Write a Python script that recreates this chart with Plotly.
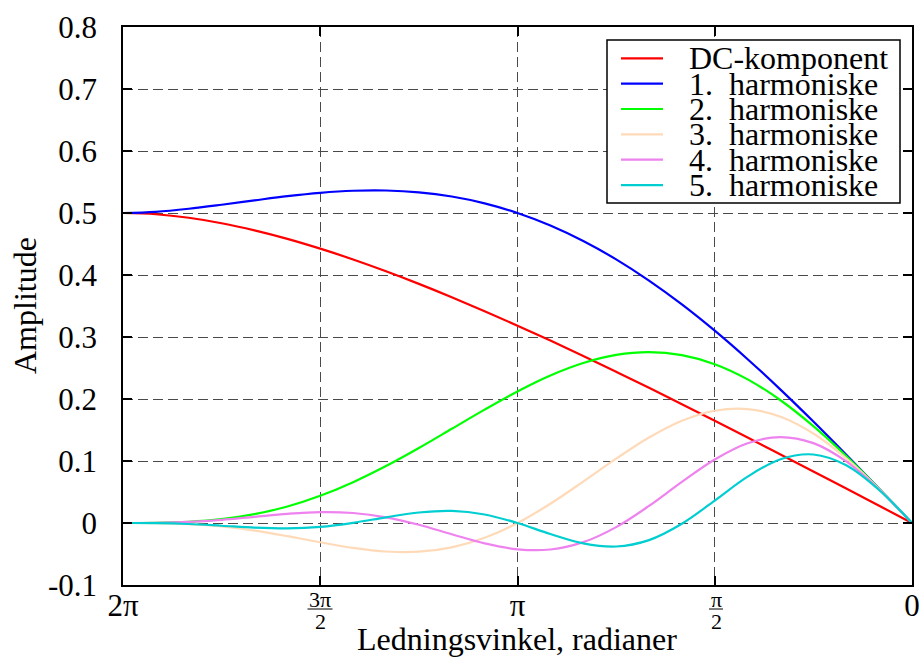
import numpy as np
import plotly.graph_objects as go

# ---------------- data ----------------
conduction_deg = [0, 15, 30, 45, 60, 75, 90, 105, 120, 135, 150, 165, 180,
                  195, 210, 225, 240, 255, 270, 285, 300, 315, 330, 345, 360]

dc = [0, 0.0278, 0.0555, 0.0831, 0.1106, 0.1379, 0.1649, 0.1916, 0.2180, 0.2439,
      0.2693, 0.2942, 0.3183, 0.3417, 0.3642, 0.3857, 0.4060, 0.4250, 0.4425,
      0.4583, 0.4720, 0.4835, 0.4923, 0.4980, 0.5000]
h1 = [0, 0.0554, 0.1102, 0.1637, 0.2152, 0.2642, 0.3102, 0.3526, 0.3910, 0.4252,
      0.4548, 0.4798, 0.5000, 0.5156, 0.5266, 0.5334, 0.5363, 0.5359, 0.5326,
      0.5272, 0.5204, 0.5133, 0.5068, 0.5019, 0.5000]
h2 = [0, 0.0552, 0.1080, 0.1562, 0.1980, 0.2317, 0.2562, 0.2708, 0.2757, 0.2711,
      0.2580, 0.2379, 0.2122, 0.1829, 0.1519, 0.1210, 0.0919, 0.0659, 0.0440,
      0.0267, 0.0142, 0.0062, 0.0019, 0.0002, 0]
h3 = [0, 0.0547, 0.1043, 0.1444, 0.1715, 0.1838, 0.1811, 0.1649, 0.1378, 0.1037,
      0.0668, 0.0311, 0, -0.0239, -0.0393, -0.0463, -0.0460, -0.0401, -0.0311,
      -0.0212, -0.0123, -0.0057, -0.0018, -0.0002, 0]
h4 = [0, 0.0540, 0.0993, 0.1288, 0.1386, 0.1287, 0.1025, 0.0663, 0.0276, -0.0066,
      -0.0309, -0.0427, -0.0424, -0.0329, -0.0182, -0.0029, 0.0092, 0.0161, 0.0176,
      0.0148, 0.0100, 0.0051, 0.0017, 0.0002, 0]
h5 = [0, 0.0532, 0.0931, 0.1105, 0.1029, 0.0748, 0.0362, -0.0012, -0.0276, -0.0379,
      -0.0329, -0.0178, 0, 0.0137, 0.0194, 0.0169, 0.0092, 0.0003, -0.0062,
      -0.0086, -0.0074, -0.0044, -0.0016, -0.0002, 0]

series_names = ["DC-komponent", "1.\u2002harmoniske", "2.\u2002harmoniske",
                "3.\u2002harmoniske", "4.\u2002harmoniske", "5.\u2002harmoniske"]
series_colors = ["#ff0000", "#0000ff", "#00ff00", "#ffdab9", "#ee82ee", "#00ced1"]
series_values = [dc, h1, h2, h3, h4, h5]

y_tick_vals = [-0.1, 0, 0.1, 0.2, 0.3, 0.4, 0.5, 0.6, 0.7, 0.8]
y_tick_text = ["-0.1", "0", "0.1", "0.2", "0.3", "0.4", "0.5", "0.6", "0.7", "0.8"]
x_tick_vals = [2 * np.pi, 1.5 * np.pi, np.pi, 0.5 * np.pi, 0]
x_tick_text = ["2π", "", "π", "", "0"]

# ---------------- layout constants ----------------
W, H = 922, 658
L, R, T, B = 123, 912, 27, 585
FONT = "Liberation Serif"


def px(xp):
    return (xp - L) / (R - L)


def py(yp):
    return (B - yp) / (B - T)


x = np.radians(conduction_deg)

fig = go.Figure()
for name, col, vals in zip(series_names, series_colors, series_values):
    fig.add_trace(go.Scatter(x=x, y=vals, mode="lines", name=name,
                             line=dict(color=col, width=2.2, shape="spline", smoothing=1.0),
                             showlegend=False))

axis_common = dict(showline=True, linecolor="black", linewidth=1.5, mirror="ticks",
                   ticks="inside", ticklen=9, tickwidth=1.5, tickcolor="black",
                   showgrid=True, gridcolor="#4a4a4a", gridwidth=1, griddash="10px,5px",
                   zeroline=False, automargin=False,
                   tickfont=dict(family=FONT, size=31, color="black"))

fig.update_xaxes(range=[2 * np.pi, 0], tickmode="array", tickvals=x_tick_vals,
                 ticktext=x_tick_text, ticklabelstandoff=-8, **axis_common)
fig.update_yaxes(range=[-0.1, 0.8], tickmode="array", tickvals=y_tick_vals,
                 ticktext=y_tick_text, ticklabelstandoff=18, **axis_common)

shapes = []
annotations = []

# fraction tick labels
for xc, num, half in [(320, "3π", 12.5), (716, "π", 7)]:
    annotations.append(dict(x=px(xc), y=py(599), xref="paper", yref="paper", text=num,
                            showarrow=False, xanchor="center", yanchor="middle",
                            font=dict(family=FONT, size=22, color="black")))
    annotations.append(dict(x=px(xc), y=py(621), xref="paper", yref="paper", text="2",
                            showarrow=False, xanchor="center", yanchor="middle",
                            font=dict(family=FONT, size=22, color="black")))
    shapes.append(dict(type="line", xref="paper", yref="paper",
                       x0=px(xc - half), x1=px(xc + half), y0=py(609), y1=py(609),
                       line=dict(color="black", width=1)))

# axis titles
annotations.append(dict(x=px(517), y=py(639), xref="paper", yref="paper",
                        text="Ledningsvinkel, radianer", showarrow=False,
                        xanchor="center", yanchor="middle",
                        font=dict(family=FONT, size=32, color="black")))
annotations.append(dict(x=px(25), y=py(306), xref="paper", yref="paper",
                        text="Amplitude", showarrow=False, textangle=-90,
                        xanchor="center", yanchor="middle",
                        font=dict(family=FONT, size=32, color="black")))

# legend box (drawn manually to match compact row spacing)
shapes.append(dict(type="rect", xref="paper", yref="paper",
                   x0=px(607), x1=px(900), y0=py(40), y1=py(203),
                   fillcolor="white", line=dict(color="black", width=1.5), layer="above"))
row0, step = 58.3, 25.35
for i, (name, col) in enumerate(zip(series_names, series_colors)):
    yr = row0 + i * step
    shapes.append(dict(type="line", xref="paper", yref="paper",
                       x0=px(621), x1=px(663), y0=py(yr), y1=py(yr),
                       line=dict(color=col, width=2.2), layer="above"))
    annotations.append(dict(x=px(687), y=py(yr), xref="paper", yref="paper",
                            text=name, showarrow=False, xanchor="left", yanchor="middle",
                            font=dict(family=FONT, size=32, color="black")))

fig.update_layout(width=W, height=H, autosize=False,
                  margin=dict(l=L, r=W - R, t=T, b=H - B, pad=0, autoexpand=False),
                  paper_bgcolor="white", plot_bgcolor="white",
                  shapes=shapes, annotations=annotations, showlegend=False)

fig.write_html("out.html", config={"displayModeBar": False, "responsive": False})
